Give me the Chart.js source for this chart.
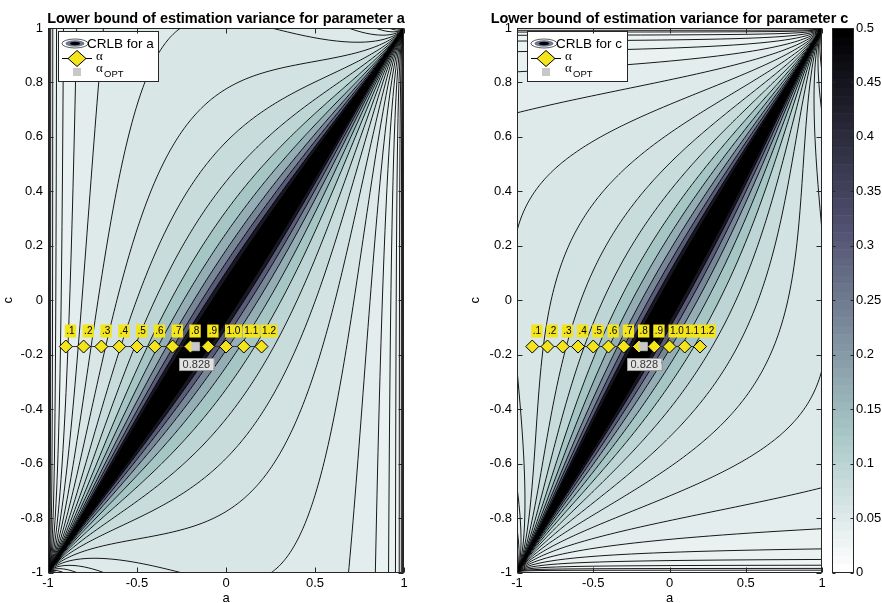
<!DOCTYPE html>
<html>
<head>
<meta charset="utf-8">
<title>CRLB</title>
<script src="https://cdn.jsdelivr.net/npm/chart.js@4.4.1/dist/chart.umd.min.js"></script>
<style>
  body { margin: 0; background: #fff; }
  #wrap { position: relative; width: 882px; height: 603px; overflow: hidden; }
  #wrap canvas { position: absolute; top: 0; }
</style>
</head>
<body>
<div id="wrap">
  <canvas id="graficoA" width="441" height="603" style="left:0"></canvas>
  <canvas id="graficoC" width="441" height="603" style="left:441px"></canvas>
</div>
<script>
// ticks
const xTicks = [-1, -0.5, 0, 0.5, 1];
const xTickLabels = ['-1', '-0.5', '0', '0.5', '1'];
const yTicks = [-1, -0.8, -0.6, -0.4, -0.2, 0, 0.2, 0.4, 0.6, 0.8, 1];
const yTickLabels = ['-1', '-0.8', '-0.6', '-0.4', '-0.2', '0', '0.2', '0.4', '0.6', '0.8', '1'];
const cbarTicks = [0, 0.05, 0.1, 0.15, 0.2, 0.25, 0.3, 0.35, 0.4, 0.45, 0.5];
const cbarTickLabels = ['0', '0.05', '0.1', '0.15', '0.2', '0.25', '0.3', '0.35', '0.4', '0.45', '0.5'];

// alpha markers
const alphaLabels = ['.1', '.2', '.3', '.4', '.5', '.6', '.7', '.8', '.9', '1.0', '1.1', '1.2'];
const alphaA = [-0.9, -0.8, -0.7, -0.6, -0.5, -0.4, -0.3, -0.2, -0.1, 0, 0.1, 0.2];
const alphaC = [-0.17, -0.17, -0.17, -0.17, -0.17, -0.17, -0.17, -0.17, -0.17, -0.17, -0.17, -0.17];
const alphaOptA = [-0.172];
const alphaOptC = [-0.17];
const alphaOptLabel = '0.828';

// contour levels of the bound (unscaled) and colorbar shade of each band
const contourLevels = [0.0166, 0.0296, 0.0526, 0.0935, 0.166, 0.296, 0.526, 0.935,
  1.66, 2.96, 5.26, 9.35, 16.6, 29.6, 52.6, 93.5, 166];
const bandShades = [0.012, 0.018, 0.022, 0.027, 0.032, 0.037, 0.042, 0.048, 0.056,
  0.066, 0.08, 0.1, 0.13, 0.17, 0.23, 0.3, 0.44, 0.5];

const fonte = '"Liberation Sans", Arial, sans-serif';
const amarelo = '#f3e41b';

// bound for an ARMA(1,1) model with pole a and zero c
function crlb(a, c, param) {
  const d = Math.max((a - c) * (a - c), 1e-14);
  const p = param === 'a' ? a : c;
  return (1 - a * c) * (1 - a * c) * Math.max(1 - p * p, 0) / d;
}

// matlab bone(64), flipped, limits 0..0.5
function boneColor(v) {
  let idx = Math.floor(v / 0.5 * 64);
  idx = Math.max(0, Math.min(63, idx));
  const i = 63 - idx;
  const g = i / 63;
  const hr = i < 24 ? (i + 1) / 24 : 1;
  const hg = i < 24 ? 0 : (i < 48 ? (i - 23) / 24 : 1);
  const hb = i < 48 ? 0 : (i - 47) / 16;
  return [Math.round((7 * g + hb) / 8 * 255), Math.round((7 * g + hg) / 8 * 255), Math.round((7 * g + hr) / 8 * 255)];
}

function bandIndex(f) {
  let k = 0;
  while (k < contourLevels.length && f >= contourLevels[k]) k++;
  return k;
}

// filled contours + lines
const campoPlugin = {
  id: 'campo',
  beforeDatasetsDraw(chart, args, opts) {
    const { ctx, chartArea: ca, scales } = chart;
    const xs = scales.x, ys = scales.y;
    const w = Math.round(ca.right - ca.left), h = Math.round(ca.bottom - ca.top);
    const off = document.createElement('canvas');
    off.width = w; off.height = h;
    const octx = off.getContext('2d');
    const img = octx.createImageData(w, h);
    const paleta = bandShades.map(boneColor);
    for (let j = 0; j < h; j++) {
      const c = ys.getValueForPixel(ca.top + j + 0.5);
      for (let i = 0; i < w; i++) {
        const a = xs.getValueForPixel(ca.left + i + 0.5);
        const col = paleta[bandIndex(crlb(a, c, opts.param))];
        const p = (j * w + i) * 4;
        img.data[p] = col[0]; img.data[p + 1] = col[1]; img.data[p + 2] = col[2]; img.data[p + 3] = 255;
      }
    }
    octx.putImageData(img, 0, 0);
    ctx.drawImage(off, ca.left, ca.top);

    // contour lines, marching squares on log of the bound
    const nx = w + 1, ny = h + 1;
    const G = new Float64Array(nx * ny);
    for (let j = 0; j < ny; j++) {
      const c = ys.getValueForPixel(ca.top + j);
      for (let i = 0; i < nx; i++) {
        const f = crlb(xs.getValueForPixel(ca.left + i), c, opts.param);
        G[j * nx + i] = f > 1e-6 ? Math.log(f) : Math.log(1e-6);
      }
    }
    const L = contourLevels.map(Math.log);
    ctx.save();
    ctx.beginPath();
    ctx.rect(ca.left, ca.top, w, h);
    ctx.clip();
    ctx.beginPath();
    for (let j = 0; j < ny - 1; j++) {
      for (let i = 0; i < nx - 1; i++) {
        const v0 = G[j * nx + i], v1 = G[j * nx + i + 1], v2 = G[(j + 1) * nx + i + 1], v3 = G[(j + 1) * nx + i];
        const lo = Math.min(v0, v1, v2, v3), hi = Math.max(v0, v1, v2, v3);
        if (hi < L[0] || lo > L[L.length - 1]) continue;
        const x0 = ca.left + i, y0 = ca.top + j;
        for (let k = 0; k < L.length; k++) {
          const t = L[k];
          if (t <= lo || t > hi) continue;
          const pts = [];
          if ((v0 < t) !== (v1 < t)) pts.push([x0 + (t - v0) / (v1 - v0), y0]);
          if ((v1 < t) !== (v2 < t)) pts.push([x0 + 1, y0 + (t - v1) / (v2 - v1)]);
          if ((v3 < t) !== (v2 < t)) pts.push([x0 + (t - v3) / (v2 - v3), y0 + 1]);
          if ((v0 < t) !== (v3 < t)) pts.push([x0, y0 + (t - v0) / (v3 - v0)]);
          if (pts.length >= 2) { ctx.moveTo(pts[0][0], pts[0][1]); ctx.lineTo(pts[1][0], pts[1][1]); }
          if (pts.length === 4) { ctx.moveTo(pts[2][0], pts[2][1]); ctx.lineTo(pts[3][0], pts[3][1]); }
        }
      }
    }
    ctx.strokeStyle = '#000';
    ctx.lineWidth = 0.9;
    ctx.stroke();
    ctx.restore();
  }
};

function elipse(ctx, x, y, rx, ry, fill, stroke) {
  ctx.beginPath();
  ctx.ellipse(x, y, rx, ry, 0, 0, Math.PI * 2);
  ctx.fillStyle = fill; ctx.fill();
  if (stroke) { ctx.strokeStyle = stroke; ctx.lineWidth = 0.8; ctx.stroke(); }
}

// title, labels, legend, axes box, colorbar
const extrasPlugin = {
  id: 'extras',
  afterDatasetsDraw(chart, args, opts) {
    const { ctx, chartArea: ca, scales } = chart;
    const xs = scales.x, ys = scales.y;
    ctx.save();
    // title centred on the axes
    ctx.font = 'bold 14.5px ' + fonte;
    ctx.fillStyle = '#000';
    ctx.textAlign = 'center';
    ctx.textBaseline = 'middle';
    ctx.fillText('Lower bound of estimation variance for parameter ' + opts.param, (ca.left + ca.right) / 2, 19);

    // yellow alpha labels, left aligned on the marker
    ctx.font = '10px ' + fonte;
    ctx.textAlign = 'left';
    alphaLabels.forEach((lab, i) => {
      const px = xs.getPixelForValue(alphaA[i]);
      const py = ys.getPixelForValue(alphaC[i]) - 15.5;
      const tw = ctx.measureText(lab).width + 3;
      ctx.fillStyle = amarelo;
      ctx.fillRect(px - 1, py - 6.5, tw, 13);
      ctx.fillStyle = '#000';
      ctx.fillText(lab, px + 0.5, py + 0.5);
    });
    // alpha opt label
    ctx.font = '11px ' + fonte;
    ctx.textAlign = 'center';
    const ox = xs.getPixelForValue(alphaOptA[0]) + 1, oy = ys.getPixelForValue(alphaOptC[0]) + 18;
    const ow = ctx.measureText(alphaOptLabel).width + 7;
    ctx.fillStyle = '#e2e2e2';
    ctx.fillRect(ox - ow / 2, oy - 6.5, ow, 13);
    ctx.strokeStyle = '#9a9a9a'; ctx.lineWidth = 1;
    ctx.strokeRect(Math.round(ox - ow / 2) + 0.5, Math.round(oy - 6.5) + 0.5, Math.round(ow), 12);
    ctx.fillStyle = '#333';
    ctx.fillText(alphaOptLabel, ox, oy + 0.5);

    // legend
    const lx = ca.left + 10, ly = ca.top + 3, lw = 100, lh = 50;
    ctx.fillStyle = '#fff';
    ctx.fillRect(lx, ly, lw, lh);
    ctx.strokeStyle = '#262626'; ctx.lineWidth = 1;
    ctx.strokeRect(Math.round(lx) + 0.5, Math.round(ly) + 0.5, lw, lh);
    const ix = lx + 17;
    const r1 = ly + 12.5, r2 = ly + 27.5, r3 = ly + 41;
    elipse(ctx, ix, r1, 13, 4.5, '#fff', '#333');
    elipse(ctx, ix, r1, 9.5, 3.2, '#6c7690');
    elipse(ctx, ix, r1, 5, 1.7, '#000');
    ctx.textAlign = 'left';
    ctx.fillStyle = '#000';
    ctx.font = '13.5px ' + fonte;
    ctx.fillText('CRLB for ' + opts.param, lx + 29, r1 + 0.5);
    ctx.strokeStyle = '#000'; ctx.lineWidth = 1;
    ctx.beginPath(); ctx.moveTo(lx + 4, r2); ctx.lineTo(lx + 34, r2); ctx.stroke();
    ctx.beginPath();
    ctx.moveTo(ix + 2 - 9, r2); ctx.lineTo(ix + 2, r2 - 8); ctx.lineTo(ix + 2 + 9, r2); ctx.lineTo(ix + 2, r2 + 8); ctx.closePath();
    ctx.fillStyle = amarelo; ctx.fill(); ctx.stroke();
    ctx.fillStyle = '#c8c8c8';
    ctx.fillRect(ix - 2, r3 - 4, 8, 8);
    ctx.fillStyle = '#000';
    ctx.font = '13px "Liberation Serif", serif';
    ctx.fillText('\u03b1', lx + 38, r2 - 2);
    ctx.fillText('\u03b1', lx + 38, r3 - 3);
    ctx.font = '9.5px ' + fonte;
    ctx.fillText('OPT', lx + 46, r3 + 2.5);

    // axes box with inward ticks
    const L = Math.round(ca.left) + 0.5, R = Math.round(ca.right) - 0.5;
    const T = Math.round(ca.top) + 0.5, B = Math.round(ca.bottom) - 0.5;
    ctx.strokeStyle = '#262626'; ctx.lineWidth = 1;
    ctx.strokeRect(L, T, R - L, B - T);
    ctx.beginPath();
    xTicks.forEach(v => {
      const px = Math.round(xs.getPixelForValue(v)) + 0.5;
      ctx.moveTo(px, B); ctx.lineTo(px, B - 5);
      ctx.moveTo(px, T); ctx.lineTo(px, T + 5);
    });
    yTicks.forEach(v => {
      const py = Math.round(ys.getPixelForValue(v)) + 0.5;
      ctx.moveTo(L, py); ctx.lineTo(L + 5, py);
      ctx.moveTo(R, py); ctx.lineTo(R - 5, py);
    });
    ctx.stroke();

    // colorbar
    if (scales.cb) {
      const cb = scales.cb;
      const bx = Math.round(ca.right) + 10, bw = 21;
      for (let i = 0; i < 64; i++) {
        const v0 = i / 64 * 0.5, v1 = (i + 1) / 64 * 0.5;
        const y0 = cb.getPixelForValue(v0), y1 = cb.getPixelForValue(v1);
        const col = boneColor(v0 + 0.001);
        ctx.fillStyle = 'rgb(' + col.join(',') + ')';
        ctx.fillRect(bx, y1, bw, y0 - y1 + 0.5);
      }
      const cT = Math.round(cb.top) + 0.5, cB = Math.round(cb.bottom) - 0.5;
      ctx.strokeStyle = '#262626';
      ctx.strokeRect(bx + 0.5, cT, bw, cB - cT);
      ctx.beginPath();
      cbarTicks.forEach(v => {
        const py = Math.round(cb.getPixelForValue(v)) + 0.5;
        ctx.moveTo(bx + 0.5 + bw, py); ctx.lineTo(bx + 0.5 + bw - 3, py);
        ctx.moveTo(bx + 0.5, py); ctx.lineTo(bx + 0.5 + 3, py);
      });
      ctx.stroke();
    }
    ctx.restore();
  }
};

function eixoX() {
  return {
    type: 'linear', min: -1, max: 1,
    grid: { display: false, drawTicks: false }, border: { display: false },
    afterBuildTicks: s => { s.ticks = xTicks.map(v => ({ value: v })); },
    afterFit: s => { s.height = 30.5; },
    ticks: { padding: 3, color: '#000', font: { size: 13 }, maxRotation: 0,
      callback: v => xTickLabels[xTicks.indexOf(v)] },
    title: { display: true, text: 'a', color: '#000', font: { size: 13, lineHeight: 1 }, padding: { top: 0, bottom: -2 } }
  };
}

function eixoY(largura, pad) {
  return {
    type: 'linear', min: -1, max: 1,
    grid: { display: false, drawTicks: false }, border: { display: false },
    afterBuildTicks: s => { s.ticks = yTicks.map(v => ({ value: v })); },
    afterFit: s => { s.width = largura; },
    ticks: { padding: 5, color: '#000', font: { size: 13 },
      callback: v => yTickLabels[yTicks.findIndex(t => Math.abs(t - v) < 1e-9)] },
    title: { display: true, text: 'c', color: '#000', font: { size: 13, lineHeight: 1 }, padding: { top: pad, bottom: 0 } }
  };
}

function criarPainel(id, param, comBarra) {
  const scales = { x: eixoX(), y: eixoY(comBarra ? 76 : 48, comBarra ? 27.5 : 2) };
  if (comBarra) {
    scales.cb = {
      type: 'linear', position: 'right', min: 0, max: 0.5,
      grid: { display: false, drawTicks: false }, border: { display: false },
      afterBuildTicks: s => { s.ticks = cbarTicks.map(v => ({ value: v })); },
      afterFit: s => { s.width = 60; s.paddingTop = 8; s.paddingBottom = 8; },
      ticks: { padding: 34, color: '#000', font: { size: 13 },
        callback: v => cbarTickLabels[cbarTicks.findIndex(t => Math.abs(t - v) < 1e-9)] }
    };
  }
  return new Chart(document.getElementById(id), {
    type: 'scatter',
    data: {
      datasets: [
        {
          label: 'alpha opt',
          data: alphaOptA.map((a, i) => ({ x: a, y: alphaOptC[i] })),
          pointStyle: 'rect', pointRadius: 6, backgroundColor: '#c8c8c8', borderColor: '#d8d8d8', borderWidth: 0.5
        },
        {
          label: 'alpha',
          data: alphaA.map((a, i) => ({ x: a, y: alphaC[i] })),
          showLine: true, borderColor: '#333', borderWidth: 1,
          pointStyle: 'rectRot', pointRadius: 6.5, pointBackgroundColor: amarelo, pointBorderColor: '#000', pointBorderWidth: 1
        }
      ]
    },
    options: {
      responsive: false,
      animation: false,
      events: [],
      layout: { padding: { left: 0, right: comBarra ? 0 : 37, top: 28, bottom: 0 } },
      scales: scales,
      plugins: {
        legend: { display: false },
        tooltip: { enabled: false },
        title: { display: false },
        campo: { param: param },
        extras: { param: param }
      }
    },
    plugins: [campoPlugin, extrasPlugin]
  });
}

Chart.defaults.font.family = fonte;
criarPainel('graficoA', 'a', false);
criarPainel('graficoC', 'c', true);
</script>
</body>
</html>
